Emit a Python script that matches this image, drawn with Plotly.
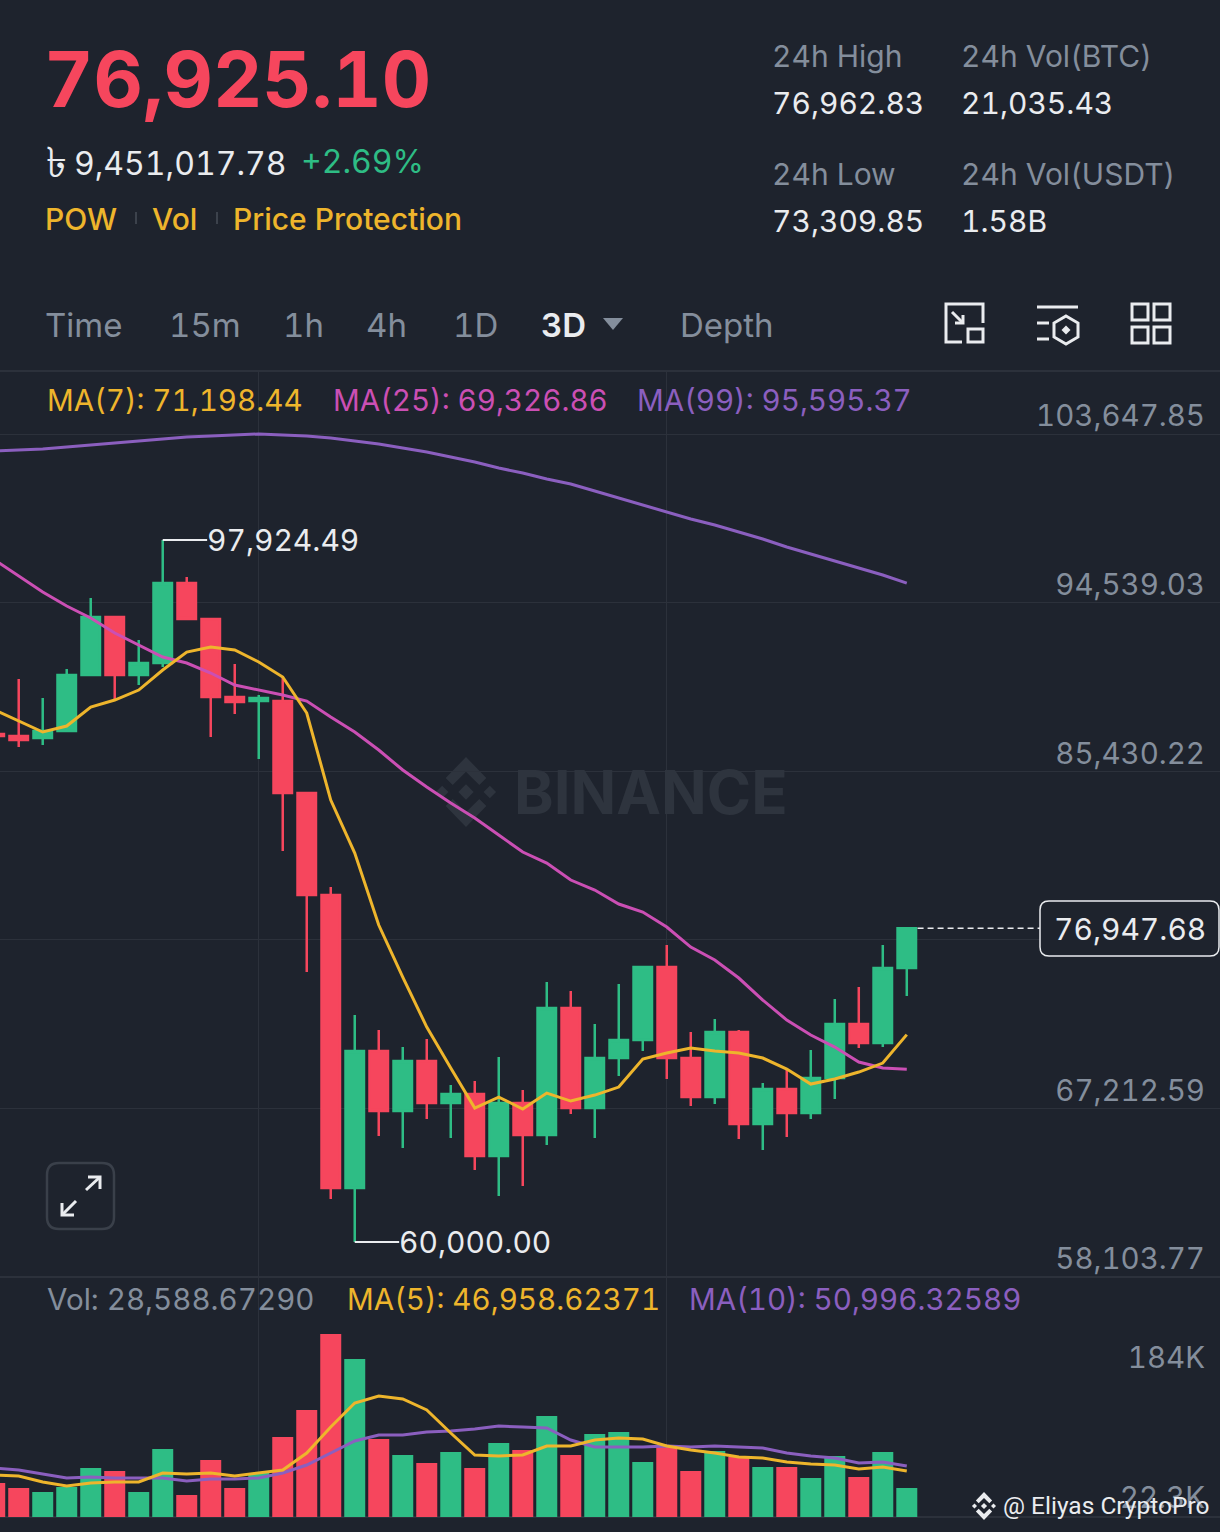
import plotly.graph_objects as go
from plotly.subplots import make_subplots

W = 1220
H = 1532
BG = '#1e232d'
GRID = '#2c313b'
RED = '#f6465d'
GREEN = '#2ebd85'
YELLOW = '#eeb52c'
MAGENTA = '#cb4fb4'
PURPLE = '#8b5fbf'
GREY = '#848e9c'
WHITE = '#eaecef'
FONT = 'Inter'

# candles, 3D bars, first one is cut off by the left edge
candle_x = list(range(-1, 38))
opens = [87439, 87331, 87223, 87601, 90627, 93761, 90627, 91275, 95597, 93652, 89438, 89222, 89222,
         84251, 78740, 62909, 70312, 67070, 69771, 67502, 67988, 64638, 67502, 65772, 72635, 67232,
         69933, 70906, 74850, 69933, 67826, 71339, 66367, 68258, 66961, 68853, 71771, 70744, 74796]
closes = [87331, 87115, 87601, 90627, 93761, 90627, 91275, 95597, 93652, 89438, 89168, 89384, 84251,
          78740, 62909, 70312, 67070, 69771, 67502, 67988, 64638, 67502, 65772, 72635, 67232, 69933,
          70906, 74850, 69933, 67826, 71339, 66367, 68258, 66961, 68853, 71771, 70744, 74796, 76947.68]
highs = [87439, 90411, 89384, 90951, 94787, 93761, 92518, 97924.49, 95922, 93652, 91221, 89546, 90573,
         84251, 79172, 72257, 71447, 70528, 70960, 68474, 68690, 69987, 68204, 74040, 73554, 71771,
         73932, 74850, 76039, 71339, 72041, 71447, 68582, 69285, 70366, 73121, 73770, 76039, 76947.68]
lows = [87331, 86737, 86845, 87547, 90627, 89276, 90086, 91059, 93598, 87277, 88520, 86088, 81117,
        74580, 62315, 60000, 65718, 65070, 66637, 65610, 63881, 62477, 63017, 65232, 66907, 65610,
        68961, 70312, 68799, 67340, 67448, 65556, 64962, 65664, 66637, 67718, 70474, 70528, 73283]

ma7 = [88736, 88142, 87547, 87871, 88898, 89276, 89816, 90897, 91869, 92140, 91978, 91329, 90519,
       88574, 83873, 81009, 77119, 74310, 71609, 69393, 67232, 67826, 67178, 68042, 67610, 67934,
       68366, 69879, 70204, 70474, 70312, 70204, 69933, 69339, 68528, 68799, 69177, 69663, 71198.44]
ma25 = [96840, 95976, 95112, 94355, 93707, 92896, 92248, 91599, 91275, 90735, 90086, 89816, 89546,
        89222, 88358, 87547, 86574, 85494, 84575, 83711, 82900, 81982, 81063, 80469, 79551, 79010,
        78254, 77822, 77011, 75930, 75228, 74256, 73067, 71986, 71176, 70528, 69717, 69393, 69326.86]
ma99 = [102729, 102783, 102838, 102946, 103054, 103162, 103270, 103378, 103486, 103540, 103594, 103648,
        103594, 103540, 103432, 103270, 103108, 102892, 102675, 102405, 102135, 101811, 101541, 101217,
        100947, 100568, 100190, 99812, 99434, 99056, 98731, 98353, 97975, 97543, 97165, 96787, 96409,
        96030, 95595.37]

volumes = [39270, 33495, 28875, 34650, 56595, 53130, 28875, 78540, 25410, 65835, 33495, 50820, 92400,
           123585, 211365, 182490, 90090, 71610, 62370, 75075, 56595, 85470, 77385, 116655, 71610, 95865,
           98175, 63525, 80850, 53130, 76230, 69300, 57750, 57750, 45045, 70455, 46200, 75075, 33495]
vol_ma5 = [48510, 47355, 40425, 35805, 39270, 40425, 40425, 50820, 49665, 50820, 47355, 50820, 54285,
           73920, 103950, 131670, 139755, 136290, 123585, 97020, 71610, 70455, 71610, 82005, 82005, 88935,
           91245, 90090, 82005, 77385, 73920, 69300, 68145, 63525, 61215, 60060, 55440, 57750, 53130]
vol_ma10 = [56595, 54285, 49665, 45045, 46200, 45045, 45045, 45045, 41580, 43890, 43890, 45045, 50820,
            60060, 73920, 87780, 94710, 94710, 98175, 99330, 101640, 105105, 103950, 102795, 88935, 80850,
            80850, 80850, 82005, 80850, 82005, 80850, 79695, 73920, 70455, 68145, 62370, 63525, 58905]

price_ticks = [103647.85, 94539.03, 85430.22, 76321.40, 67212.59, 58103.77]
price_labels = ['103,647.85', '94,539.03', '85,430.22', '', '67,212.59', '58,103.77']
vol_ticks = [22300, 184000]
vol_labels = ['22.3K', '184K']
grid_x = [10, 27]

high_mark = 97924.49
low_mark = 60000.00
last_price = 76947.68


def fx(px):
    return px / W


def fy(py):
    return 1 - py / H


def pt(px, py):
    return f'{fx(px):.5f},{fy(py):.5f}'


def path(points, close=False):
    d = 'M' + ' L'.join(pt(*p) for p in points)
    return d + (' Z' if close else '')


fig = make_subplots(rows=2, cols=1, shared_xaxes=True, vertical_spacing=0)

fig.add_trace(go.Candlestick(
    x=candle_x, open=opens, high=highs, low=lows, close=closes,
    increasing=dict(line=dict(color=GREEN, width=2.5), fillcolor=GREEN),
    decreasing=dict(line=dict(color=RED, width=2.5), fillcolor=RED),
    whiskerwidth=0, hoverinfo='skip',
), row=1, col=1)
for vals, color in [(ma99, PURPLE), (ma25, MAGENTA), (ma7, YELLOW)]:
    fig.add_trace(go.Scatter(x=candle_x, y=vals, mode='lines', line=dict(color=color, width=3),
                             hoverinfo='skip'), row=1, col=1)

bar_colors = [GREEN if c >= o else RED for o, c in zip(opens, closes)]
fig.add_trace(go.Bar(x=candle_x, y=volumes, marker=dict(color=bar_colors, line_width=0), hoverinfo='skip'),
              row=2, col=1)
for vals, color in [(vol_ma10, PURPLE), (vol_ma5, YELLOW)]:
    fig.add_trace(go.Scatter(x=candle_x, y=vals, mode='lines', line=dict(color=color, width=3),
                             hoverinfo='skip'), row=2, col=1)

fig.update_layout(
    width=W, height=H, margin=dict(l=0, r=0, t=0, b=0, pad=0, autoexpand=False), paper_bgcolor=BG, plot_bgcolor=BG,
    showlegend=False, hovermode=False, boxgap=0.23, boxgroupgap=0, bargap=0.125, font=dict(family=FONT, color=GREY),
)
x_range = [-0.78, 50.05]
fig.update_xaxes(range=x_range, tickvals=grid_x, showticklabels=False, showgrid=True, gridcolor=GRID, gridwidth=1,
                 zeroline=False, showline=False, ticks='', rangeslider_visible=False)
fig.update_yaxes(domain=[fy(1277), fy(371)], range=[58103.77, 107052], side='right', tickvals=price_ticks,
                 ticktext=price_labels, ticklabelposition='inside', ticklabelstandoff=12, ticklabelshift=-18,
                 ticklabeloverflow='allow', tickfont=dict(size=29.5, color=GREY, family=FONT),
                 showgrid=True, gridcolor=GRID, zeroline=False, showline=False, ticks='', row=1, col=1)
fig.update_yaxes(domain=[fy(1517), fy(1277)], range=[0, 277200], side='right', tickvals=vol_ticks, ticktext=vol_labels,
                 ticklabelposition='inside', ticklabelstandoff=12, ticklabeloverflow='allow',
                 tickfont=dict(size=29.5, color=GREY, family=FONT),
                 showgrid=False, zeroline=False, showline=False, ticks='', row=2, col=1)
fig.update_xaxes(domain=[0, 1])


def label(text, px, py, size=30, color=GREY, anchor='left', weight=400, family=FONT):
    # glyphs sit about 2px right of the anchor
    x = px - 2 if anchor == 'left' else px
    fig.add_annotation(text=text, xref='paper', yref='paper', x=fx(x), y=fy(py), xanchor=anchor, yanchor='middle',
                       showarrow=False, font=dict(size=size, color=color, family=family, weight=weight), borderpad=0)


def line_shape(points, color=WHITE, width=3, close=False, fill=None, layer='above'):
    fig.add_shape(type='path', xref='paper', yref='paper', path=path(points, close),
                  line=dict(color=color, width=width), fillcolor=fill, layer=layer)


def diamond(cx, cy, r, color, layer='above'):
    line_shape([(cx, cy - r), (cx + r, cy), (cx, cy + r), (cx - r, cy)], color=color, width=0, close=True,
               fill=color, layer=layer)


def binance_logo(cx, cy, r, color, layer='above'):
    s = r / 5
    diamond(cx, cy, s * 1.1, color, layer)
    diamond(cx - s * 3.4, cy, s * 0.9, color, layer)
    diamond(cx + s * 3.4, cy, s * 0.9, color, layer)
    for sign in (-1, 1):
        line_shape([(cx - s * 2.9, cy + sign * s * 2), (cx, cy + sign * s * 5), (cx + s * 2.9, cy + sign * s * 2),
                    (cx + s * 1.9, cy + sign * s * 1), (cx, cy + sign * s * 2.9), (cx - s * 1.9, cy + sign * s * 1)],
                   color=color, width=0, close=True, fill=color, layer=layer)


# separators
for py in [371, 1277, 1517]:
    fig.add_shape(type='line', xref='paper', yref='paper', x0=0, x1=1, y0=fy(py), y1=fy(py),
                  line=dict(color=GRID, width=2), layer='below')

# header
label('76,925.10', 45, 79, size=76.5, color=RED, weight=700)
label('৳', 47, 161, size=42, color=WHITE, weight=500)
label('9,451,017.78', 75, 163, size=32, color=WHITE)
label('+2.69%', 302, 161, size=32, color=GREEN)
label('POW', 46, 219, size=30, color=YELLOW, weight=500)
label('Vol', 153, 219, size=30, color=YELLOW, weight=500)
label('Price Protection', 234, 219, size=30, color=YELLOW, weight=500)
for px in [136, 217]:
    fig.add_shape(type='line', xref='paper', yref='paper', x0=fx(px), x1=fx(px), y0=fy(212), y1=fy(224),
                  line=dict(color='#3c424c', width=2))

label('24h High', 773, 56)
label('76,962.83', 773, 103, color=WHITE)
label('24h Vol(BTC)', 962, 56)
label('21,035.43', 962, 103, color=WHITE)
label('24h Low', 773, 174)
label('73,309.85', 773, 221, color=WHITE)
label('24h Vol(USDT)', 962, 174)
label('1.58B', 962, 221, color=WHITE)

# timeframe row
for text, px in [('Time', 46), ('15m', 170), ('1h', 284), ('4h', 367), ('1D', 454), ('Depth', 681)]:
    label(text, px, 325, size=33)
label('3D', 542, 325, size=33, color=WHITE, weight=600)
line_shape([(603, 318), (623, 318), (613, 330)], color=GREY, width=0, close=True, fill=GREY)

# toolbar icons
line_shape([(962, 342), (946, 342), (946, 304), (983, 304), (983, 323)])
line_shape([(968, 329), (983, 329), (983, 342), (968, 342)], close=True)
line_shape([(952, 312), (963, 323)])
line_shape([(963, 315), (963, 323), (955, 323)])
line_shape([(1037, 307), (1078, 307)])
line_shape([(1037, 323), (1049, 323)])
line_shape([(1037, 339), (1049, 339)])
line_shape([(1066, 316), (1078, 323), (1078, 337), (1066, 344), (1054, 337), (1054, 323)], close=True)
diamond(1066, 330, 4.5, WHITE)
for x0, y0 in [(1132, 304), (1154, 304), (1132, 327), (1154, 327)]:
    line_shape([(x0, y0), (x0 + 16, y0), (x0 + 16, y0 + 16), (x0, y0 + 16)], close=True)

# legends
label('MA(7): 71,198.44', 48, 400, size=29.6, color=YELLOW)
label('MA(25): 69,326.86', 334, 400, size=29.6, color=MAGENTA)
label('MA(99): 95,595.37', 638, 400, size=29.6, color=PURPLE)
label('Vol: 28,588.67290', 48, 1299, size=29.6)
label('MA(5): 46,958.62371', 348, 1299, size=29.6, color=YELLOW)
label('MA(10): 50,996.32589', 690, 1299, size=29.6, color=PURPLE)

# watermark
label('BINANCE', 515, 792, size=60, color='#2e343e', weight=700)
binance_logo(466, 792, 35, '#2e343e', layer='below')

# high / low callouts
fig.add_shape(type='line', xref='x', yref='y', x0=6, x1=7.85, y0=high_mark, y1=high_mark,
              line=dict(color=WHITE, width=2))
fig.add_annotation(text='97,924.49', xref='x', yref='y', x=7.82, y=high_mark, xanchor='left', yanchor='middle',
                   showarrow=False, font=dict(size=30, color=WHITE, family=FONT), borderpad=0)
fig.add_shape(type='line', xref='x', yref='y', x0=14, x1=15.85, y0=low_mark, y1=low_mark,
              line=dict(color=WHITE, width=2))
fig.add_annotation(text='60,000.00', xref='x', yref='y', x=15.82, y=low_mark, xanchor='left', yanchor='middle',
                   showarrow=False, font=dict(size=30, color=WHITE, family=FONT), borderpad=0)

# last price tag
fig.add_shape(type='line', xref='x', yref='y', x0=37.45, x1=42.55, y0=last_price, y1=last_price,
              line=dict(color=WHITE, width=1.5, dash='6px,4px'))
r = 9
fig.add_shape(type='path', xref='paper', yref='paper', fillcolor=BG, line=dict(color=WHITE, width=1.5),
              path=f'M{pt(1040 + r, 901)} L{pt(1219 - r, 901)} Q{pt(1219, 901)} {pt(1219, 901 + r)} '
                   f'L{pt(1219, 956 - r)} Q{pt(1219, 956)} {pt(1219 - r, 956)} L{pt(1040 + r, 956)} '
                   f'Q{pt(1040, 956)} {pt(1040, 956 - r)} L{pt(1040, 901 + r)} Q{pt(1040, 901)} {pt(1040 + r, 901)} Z')
label('76,947.68', 1130, 929, color=WHITE, anchor='center')

# fullscreen button
r = 12
fig.add_shape(type='path', xref='paper', yref='paper', line=dict(color='#3a404a', width=2.5),
              path=f'M{pt(47 + r, 1163)} L{pt(114 - r, 1163)} Q{pt(114, 1163)} {pt(114, 1163 + r)} '
                   f'L{pt(114, 1229 - r)} Q{pt(114, 1229)} {pt(114 - r, 1229)} L{pt(47 + r, 1229)} '
                   f'Q{pt(47, 1229)} {pt(47, 1229 - r)} L{pt(47, 1163 + r)} Q{pt(47, 1163)} {pt(47 + r, 1163)} Z')
line_shape([(62, 1215), (76, 1201)])
line_shape([(62, 1203), (62, 1215), (74, 1215)])
line_shape([(86, 1190), (100, 1177)])
line_shape([(88, 1177), (100, 1177), (100, 1189)])

# credit
binance_logo(984, 1506, 14, WHITE)
label('@ Eliyas CryptoPro', 1004, 1505, size=24.5, color=WHITE, family='Roboto')

# page margin off, tabular digits like the app's own font. family string changes so plotly
# re-measures the text instead of using its cached widths
post = """
document.body.style.margin = '0';
var s = document.createElement('style');
s.textContent = 'svg text{font-feature-settings:"tnum"}';
document.head.appendChild(s);
var gd = document.getElementById('{plot_id}');
gd.layout.annotations.forEach(function (a) { a.font.family += ', sans-serif'; });
gd.layout.yaxis.tickfont.family += ', sans-serif';
gd.layout.yaxis2.tickfont.family += ', sans-serif';
Plotly.redraw(gd);
"""
fig.write_html("out.html", post_script=post, config={'displayModeBar': False})
